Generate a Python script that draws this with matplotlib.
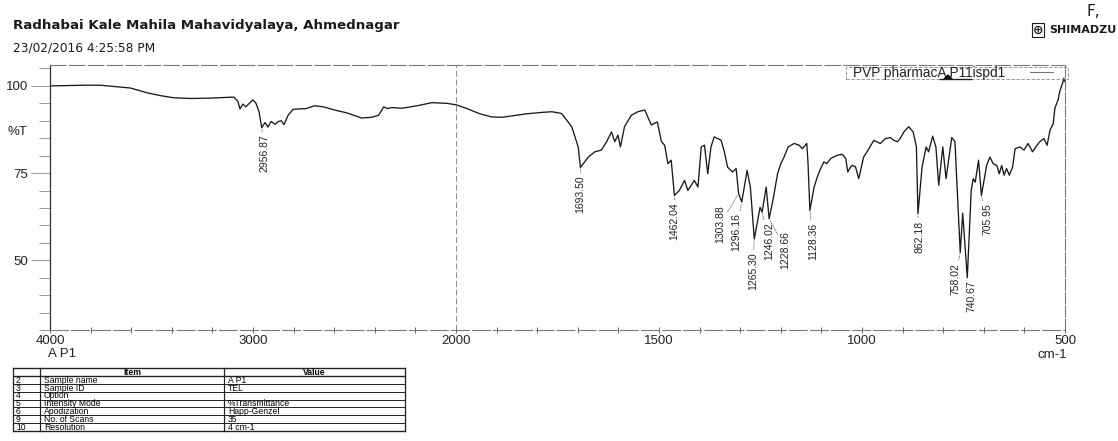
import numpy as np
import matplotlib
matplotlib.use("Agg")
import matplotlib.pyplot as plt
from matplotlib.patches import Rectangle, Polygon
from matplotlib.lines import Line2D

W, H = 1118, 441

# ---- spectrum (wavenumber in cm-1, %T) ----
wavenumber = [
    4000, 3901, 3827, 3752, 3678, 3604, 3520, 3455, 3391, 3307, 3208, 3094,
    3074, 3064, 3050, 3035, 3015, 3000, 2985, 2970, 2956.87, 2941, 2926, 2911,
    2891, 2876, 2861, 2847, 2827, 2802, 2738, 2698, 2653, 2599, 2540, 2465,
    2416, 2381, 2356, 2337, 2317, 2267, 2193, 2119, 2045, 2000,
    1973, 1941, 1912, 1887, 1863, 1826, 1789, 1764, 1740, 1715, 1699, 1693.50,
    1674, 1658, 1642, 1629, 1617, 1609, 1601, 1595, 1585, 1568, 1552, 1535,
    1519, 1504, 1494, 1486, 1478, 1470, 1462.04, 1450, 1437, 1429, 1413, 1404,
    1396, 1388, 1380, 1372, 1364, 1347, 1339, 1331, 1319, 1310, 1303.88,
    1296.16, 1283, 1275, 1265.30, 1251, 1246.02, 1236, 1228.66, 1218, 1208,
    1200, 1192, 1182, 1167, 1155, 1147, 1136, 1133, 1128.36, 1118, 1110, 1102,
    1094, 1087, 1077, 1061, 1049, 1040, 1035, 1028, 1024, 1016, 1008, 996,
    983, 971, 955, 942, 930, 922, 913, 906, 897, 885, 874, 866, 862.18, 852,
    842, 836, 826, 818, 811, 801, 793, 779, 771, 767, 758.02, 752, 740.67,
    731, 726, 721, 713, 705.95, 693, 685, 677, 668, 662, 656, 650, 644, 637,
    629, 623, 611, 601, 591, 580, 572, 562, 552, 544, 537, 529, 525, 517, 513,
    506, 503, 500,
]
transmittance = [
    100.0, 100.1, 100.2, 100.2, 99.8, 99.4, 98.0, 97.2, 96.6, 96.4, 96.5, 96.8,
    95.5, 93.4, 94.8, 94.0, 95.2, 96.0, 95.0, 92.5, 88.0, 89.5, 88.2, 89.8,
    89.0, 89.8, 90.0, 88.9, 91.6, 93.3, 93.5, 94.3, 94.0, 93.1, 92.3, 90.8,
    91.0, 91.6, 94.0, 93.5, 93.8, 93.6, 94.3, 95.2, 95.0, 94.6,
    93.5, 92.0, 91.1, 91.0, 91.4, 92.0, 92.4, 92.6, 92.1, 88.3, 82.5, 76.6,
    79.6, 81.1, 81.6, 84.0, 86.8, 84.0, 85.9, 82.5, 88.3, 91.6, 92.6, 93.1,
    88.8, 89.7, 84.0, 83.0, 77.7, 78.7, 68.6, 70.0, 72.9, 70.0, 72.9, 71.0,
    82.5, 83.0, 74.8, 82.5, 85.4, 84.4, 81.1, 76.7, 75.3, 76.3, 69.1,
    66.7, 75.8, 71.0, 56.1, 65.2, 63.8, 71.0, 61.9, 68.1, 74.8,
    77.7, 79.6, 82.5, 83.5, 83.0, 82.0, 83.5, 78.0, 64.3, 71.0, 73.9, 76.3,
    78.2, 77.7, 79.2, 80.1, 80.4, 79.2, 75.3, 76.8, 77.2, 76.8, 73.4, 79.6,
    82.0, 84.4, 83.5, 84.9, 85.2, 84.4, 84.0, 84.9, 86.8, 88.3, 86.8, 82.5, 63.3, 76.8,
    82.5, 81.1, 85.6, 82.5, 71.5, 82.5, 73.4, 85.2, 84.0, 73.9, 52.2, 63.5, 45.0,
    70.0, 73.4, 72.4, 78.7, 68.6, 77.2, 79.6, 77.7, 77.2, 74.8, 77.2, 74.4, 76.3, 74.4,
    76.8, 82.0, 82.5, 81.6, 83.5, 81.1, 82.5, 84.0, 84.9, 83.0, 87.3, 89.2, 93.6, 96.0, 98.4,
    100.8, 102.2, 101.2,
]

# ---- picked peaks and where their labels sit (label wavenumber, label top %T) ----
peak_wn = [2956.87, 1693.50, 1462.04, 1303.88, 1296.16, 1265.30, 1246.02,
           1228.66, 1128.36, 862.18, 758.02, 740.67, 705.95]
label_wn = [2946, 1693.5, 1462.04, 1350, 1310, 1269, 1229, 1188, 1119,
            859, 771, 731, 692]
label_top = [86.0, 74.4, 66.6, 65.7, 63.4, 52.2, 60.8, 58.5, 60.8,
             61.4, 49.3, 44.1, 66.3]

# ---- y axis ----
y_min, y_max = 30, 106
y_major = [100, 75, 50]
y_minor = list(range(30, 106, 5))

# ---- x axis ----
x_major = [4000, 3000, 2000, 1500, 1000, 500]
x_minor = list(range(3800, 2000, -200)) + list(range(1900, 500, -100))

# ---- header / measurement table ----
title = "Radhabai Kale Mahila Mahavidyalaya, Ahmednagar"
timestamp = "23/02/2016 4:25:58 PM"
legend_label = "PVP pharmacA P11ispd1"
sample = "A P1"
row_no = ["2", "3", "4", "5", "6", "9", "10"]
row_item = ["Sample name", "Sample ID", "Option", "Intensity Mode",
            "Apodization", "No. of Scans", "Resolution"]
row_value = ["A P1", "TEL", "", "%Transmittance", "Happ-Genzel", "35", "4 cm-1"]

SANS = ["Liberation Sans", "DejaVu Sans"]


def fx(x):
    return x / W


def fy(y):
    return 1 - y / H


def fwd(w):
    w = np.asarray(w, dtype=float)
    return np.where(w <= 2000, 2 * w, w + 2000)


def inv(u):
    u = np.asarray(u, dtype=float)
    return np.where(u <= 4000, u / 2, u - 2000)


fig = plt.figure(figsize=(W / 100, H / 100), dpi=100)
fig.patch.set_facecolor("white")

ax = fig.add_axes([fx(50), fy(330), (1065 - 50) / W, (330 - 65) / H])
ax.set_xscale("function", functions=(fwd, inv))
ax.set_xlim(4000, 500)
ax.set_ylim(y_min, y_max)

ax.plot(wavenumber, transmittance, color="#1a1a1a", lw=0.95, solid_joinstyle="round")

# frame
ax.spines["left"].set_color("#333333")
ax.spines["left"].set_linewidth(0.9)
for side in ("top", "right", "bottom"):
    ax.spines[side].set_color("#7a7a7a")
    ax.spines[side].set_linewidth(0.8)
ax.spines["top"].set_linestyle((0, (14, 3)))
ax.spines["right"].set_linestyle((0, (10, 2)))
ax.spines["bottom"].set_linestyle((0, (16, 3)))
ax.axvline(2000, color="#8a8a8a", lw=0.7, ls=(0, (6, 3)))

# ticks
ax.set_xticks(x_major)
ax.set_xticks(x_minor, minor=True)
ax.set_xticklabels([str(v) for v in x_major], fontfamily=SANS, fontsize=9.5, color="#222222")
ax.set_yticks(y_major)
ax.set_yticks(y_minor, minor=True)
ax.set_yticklabels([str(v) for v in y_major], fontfamily=SANS, fontsize=9.5, color="#222222")
ax.tick_params(axis="x", which="both", direction="inout", length=5, width=0.7,
               color="#666666", pad=1)
ax.tick_params(axis="x", which="minor", length=4)
ax.tick_params(axis="y", which="major", direction="out", length=14, width=0.6,
               color="#888888", pad=2)
ax.tick_params(axis="y", which="minor", direction="out", length=8, width=0.6,
               color="#888888")

fig.text(fx(8), fy(132), "%T", fontfamily=SANS, fontsize=9.5, color="#222222",
         ha="left", va="center")
fig.text(fx(48), fy(354), sample, fontfamily=SANS, fontsize=9.5, color="#222222",
         ha="left", va="center")
fig.text(fx(1067), fy(355), "cm-1", fontfamily=SANS, fontsize=9.5, color="#222222",
         ha="right", va="center")

# peak labels
peak_T = np.interp(peak_wn, wavenumber[::-1], transmittance[::-1])
for wn, t, lx, ly in zip(peak_wn, peak_T, label_wn, label_top):
    ax.annotate(f"{wn:.2f}", xy=(wn, t), xytext=(lx, ly),
                rotation=90, ha="center", va="top", fontsize=7.5,
                fontfamily=SANS, color="#222222",
                arrowprops=dict(arrowstyle="-", color="#777777", lw=0.6,
                                linestyle=(0, (1.5, 1.5)), shrinkA=0, shrinkB=1))

# legend box
fig.add_artist(Rectangle((fx(846), fy(79)), (1068 - 846) / W, 12 / H,
                         fill=False, ec="#888888", lw=0.6, ls=(0, (4, 2))))
fig.text(fx(853), fy(72.5), legend_label, fontfamily=SANS, fontsize=9.8,
         color="#222222", ha="left", va="center")
fig.add_artist(Line2D([fx(1030), fx(1053)], [fy(72), fy(72)], color="#777777", lw=0.8))
fig.add_artist(Line2D([fx(940), fx(971)], [fy(79), fy(79)], color="#222222", lw=1.0))
fig.add_artist(Polygon([[fx(944), fy(79)], [fx(952), fy(79)], [fx(948), fy(75)]],
                       closed=True, color="#111111"))

# header texts
fig.text(fx(13), fy(26), title, fontfamily="DejaVu Sans", fontsize=9.6,
         color="#1a1a1a", ha="left", va="center", fontweight="bold")
fig.text(fx(13), fy(48), timestamp, fontfamily="DejaVu Sans", fontsize=8.7,
         color="#1a1a1a", ha="left", va="center")
fig.text(fx(1093), fy(12), "F,", fontfamily="DejaVu Sans", fontsize=11,
         color="#1a1a1a", ha="center", va="center")
fig.text(fx(1033), fy(30), "\u2295", fontfamily="DejaVu Sans", fontsize=9,
         color="#1a1a1a", ha="left", va="center", fontweight="bold",
         bbox=dict(boxstyle="square,pad=0.05", fc="white", ec="#1a1a1a", lw=0.8))
fig.text(fx(1116), fy(30), "SHIMADZU", fontfamily="DejaVu Sans", fontsize=8,
         color="#1a1a1a", ha="right", va="center", fontweight="bold")

# measurement table
tab_top, tab_bot = 368, 431
tab = fig.add_axes([fx(13), fy(tab_bot), (405 - 13) / W, (tab_bot - tab_top) / H])
tab.set_xlim(0, 392)
n_rows = len(row_no) + 1
tab.set_ylim(n_rows, 0)
tab.axis("off")
for i in range(n_rows + 1):
    tab.plot([0, 392], [i, i], color="#222222", lw=1.0 if i in (0, 1, n_rows) else 0.7,
             clip_on=False)
for xv in (0, 27, 211, 392):
    tab.plot([xv, xv], [0, n_rows], color="#222222", lw=0.9, clip_on=False)
tab.text(119, 0.55, "Item", ha="center", va="center", fontsize=6.2, fontweight="bold",
         fontfamily=SANS)
tab.text(301, 0.55, "Value", ha="center", va="center", fontsize=6.2, fontweight="bold",
         fontfamily=SANS)
for i, (n, it, v) in enumerate(zip(row_no, row_item, row_value)):
    yy = i + 1.55
    tab.text(3, yy, n, ha="left", va="center", fontsize=6.2, fontfamily=SANS)
    tab.text(31, yy, it, ha="left", va="center", fontsize=6.2, fontfamily=SANS)
    tab.text(215, yy, v, ha="left", va="center", fontsize=6.2, fontfamily=SANS)

fig.savefig("out.png", dpi=100)
